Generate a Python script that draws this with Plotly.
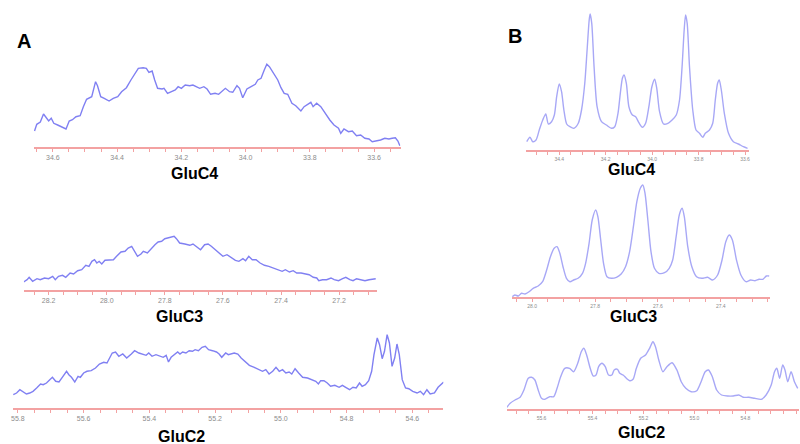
import plotly.graph_objects as go

# ---------------- spectra (ppm, intensity in arbitrary units) ----------------
# Panel A, GluC4
a_c4_ppm = [34.657, 34.650, 34.639, 34.629, 34.622, 34.613, 34.605, 34.597, 34.585, 34.572,
            34.559, 34.549, 34.539, 34.528, 34.515, 34.505, 34.495, 34.479, 34.471, 34.467,
            34.461, 34.451, 34.440, 34.425, 34.412, 34.398, 34.386, 34.371, 34.357, 34.345,
            34.334, 34.319, 34.309, 34.301, 34.291, 34.283, 34.274, 34.260, 34.254, 34.243,
            34.231, 34.219, 34.210, 34.200, 34.188, 34.174, 34.164, 34.151, 34.143, 34.130,
            34.120, 34.109, 34.095, 34.084, 34.063, 34.050, 34.040, 34.027, 34.019, 34.009,
            33.996, 33.983, 33.970, 33.962, 33.952, 33.942, 33.934, 33.926, 33.914, 33.900,
            33.890, 33.880, 33.869, 33.856, 33.844, 33.828, 33.818, 33.804, 33.797, 33.790,
            33.779, 33.766, 33.753, 33.738, 33.725, 33.711, 33.704, 33.694, 33.680, 33.668,
            33.655, 33.642, 33.629, 33.616, 33.606, 33.593, 33.580, 33.567, 33.554, 33.544,
            33.534, 33.526, 33.520]
a_c4_int = [16, 22.7, 25, 33, 30, 26, 28.7, 23.7, 22, 20,
            18, 26, 27.3, 30.3, 31.3, 40.3, 47.7, 50.3, 58.7, 65.3,
            61.3, 50.3, 48.7, 46, 48.7, 50.3, 55.3, 59.3, 67, 73.7,
            78.7, 79.3, 78.7, 74.7, 76, 67, 58.7, 58, 58.7, 53.7,
            55.3, 57, 60.3, 58.7, 62, 61.3, 62, 60.3, 58.7, 60.3,
            58, 52.7, 53.7, 52.7, 58.7, 55.3, 54.7, 61.3, 58.7, 49.3,
            58, 60.3, 62.7, 67, 68.7, 77, 82.7, 80.3, 73.7, 67,
            59.3, 53.7, 52.7, 43.7, 41.3, 36, 40.3, 42.7, 44.7, 40.3,
            43.7, 40.3, 33.7, 27, 22, 18.7, 13.7, 18, 15.3, 16,
            11.3, 12, 8.7, 8, 5.3, 6, 7, 8.7, 8, 8.7,
            9.3, 6, 1.3]

# Panel A, GluC3
a_c3_ppm = [28.286, 28.274, 28.267, 28.255, 28.240, 28.229, 28.214, 28.200, 28.186, 28.177,
            28.166, 28.152, 28.141, 28.126, 28.114, 28.100, 28.086, 28.072, 28.061, 28.051,
            28.042, 28.034, 28.026, 28.017, 28.006, 27.992, 27.977, 27.966, 27.951, 27.937,
            27.926, 27.914, 27.903, 27.894, 27.882, 27.874, 27.860, 27.846, 27.834, 27.823,
            27.811, 27.800, 27.783, 27.768, 27.760, 27.749, 27.731, 27.714, 27.703, 27.691,
            27.677, 27.663, 27.651, 27.640, 27.625, 27.611, 27.600, 27.586, 27.571, 27.557,
            27.545, 27.531, 27.522, 27.511, 27.499, 27.486, 27.472, 27.457, 27.442, 27.428,
            27.411, 27.396, 27.385, 27.371, 27.358, 27.346, 27.331, 27.316, 27.303, 27.289,
            27.277, 27.270, 27.257, 27.243, 27.228, 27.217, 27.202, 27.188, 27.177, 27.163,
            27.152, 27.140, 27.125, 27.111, 27.097, 27.083, 27.074]
a_c3_int = [8, 10.3, 12.7, 8.7, 11.3, 10.3, 12, 11.3, 13.7, 10.3,
            13.7, 14.7, 12.7, 17, 16, 19.3, 20.3, 24.7, 23.7, 28.7,
            30.3, 27, 28.7, 26, 29.7, 30.3, 30.3, 33.7, 38, 38.7,
            42, 43.7, 38, 33.7, 36, 38.7, 37, 42, 45.3, 48,
            48.7, 51.3, 52.7, 53.7, 51.3, 47, 46, 44.7, 46, 43.7,
            40.3, 45.3, 46, 43.7, 40.3, 37, 33.7, 35.3, 32, 29.7,
            28.7, 31.3, 29.3, 33.7, 30.3, 30.3, 27, 24.7, 23.7, 22,
            20.3, 18.7, 20.3, 18, 19.3, 17, 17, 16, 15.3, 12.7,
            12, 9.3, 10.3, 10.3, 12, 10.3, 9.3, 11.3, 12.7, 10.3,
            9.3, 11.3, 10.3, 9.3, 10.3, 11.3, 11.3]

# Panel A, GluC2
a_c2_ppm = [55.814, 55.804, 55.794, 55.784, 55.774, 55.764, 55.754, 55.743, 55.731, 55.723,
            55.713, 55.703, 55.695, 55.685, 55.675, 55.665, 55.652, 55.645, 55.637, 55.627,
            55.617, 55.610, 55.600, 55.590, 55.577, 55.564, 55.552, 55.539, 55.529, 55.521,
            55.513, 55.503, 55.493, 55.481, 55.469, 55.455, 55.445, 55.432, 55.420, 55.410,
            55.402, 55.392, 55.380, 55.368, 55.358, 55.349, 55.342, 55.334, 55.324, 55.314,
            55.307, 55.299, 55.289, 55.279, 55.269, 55.261, 55.251, 55.240, 55.230, 55.220,
            55.208, 55.196, 55.188, 55.180, 55.168, 55.160, 55.142, 55.131, 55.121, 55.108,
            55.096, 55.081, 55.066, 55.056, 55.046, 55.036, 55.025, 55.015, 55.005, 54.995,
            54.985, 54.975, 54.967, 54.957, 54.946, 54.934, 54.919, 54.906, 54.894, 54.886,
            54.879, 54.869, 54.859, 54.849, 54.836, 54.823, 54.813, 54.803, 54.791, 54.781,
            54.771, 54.761, 54.753, 54.743, 54.733, 54.724, 54.717, 54.707, 54.700, 54.692,
            54.685, 54.677, 54.670, 54.662, 54.654, 54.647, 54.640, 54.631, 54.621, 54.611,
            54.599, 54.586, 54.576, 54.566, 54.556, 54.546, 54.533, 54.522, 54.512, 54.505]
a_c2_int = [13.3, 15, 18.3, 16, 14, 15, 16.7, 20, 24, 23.3,
            25, 28.3, 30.7, 26.7, 26, 30.7, 36.7, 33.3, 30.7, 26,
            31.7, 30.7, 35, 36.7, 37.3, 40, 44, 45.7, 45, 50,
            55, 56, 51.7, 54, 50, 54, 57.3, 55, 54, 52.7,
            55, 51.7, 53.3, 51.7, 50.7, 52.7, 46, 50.7, 53.3, 56,
            54, 56, 55, 57.3, 56.7, 58.3, 57.3, 60.7, 61.7, 58.3,
            57.3, 56, 54, 50.7, 55, 53.3, 55, 54, 50, 46,
            42.7, 40.7, 38.3, 36.7, 38.3, 34, 36.7, 40.7, 36.7, 38.3,
            35, 36, 34, 39.3, 35, 30.7, 30, 28.3, 26.7, 24,
            27.3, 27.3, 25, 21.7, 22.7, 20.7, 22.7, 20.7, 18.3, 20.7,
            20, 25, 21.7, 23.3, 27.3, 36.7, 53.3, 70, 63.3, 49.3,
            56.7, 73.3, 65, 41.7, 50, 64, 53.3, 28.3, 20, 19.3,
            16.7, 15, 16.7, 13.3, 18.3, 14, 15, 20.7, 24, 26]

# Panel B, GluC4
b_c4_ppm = [34.540, 34.526, 34.514, 34.500, 34.486, 34.471, 34.458, 34.447, 34.433, 34.421,
            34.411, 34.400, 34.390, 34.380, 34.368, 34.354, 34.337, 34.318, 34.304, 34.290,
            34.280, 34.271, 34.267, 34.260, 34.250, 34.237, 34.218, 34.197, 34.175, 34.161,
            34.147, 34.137, 34.128, 34.121, 34.111, 34.100, 34.085, 34.071, 34.057, 34.042,
            34.028, 34.014, 34.001, 33.989, 33.980, 33.968, 33.951, 33.932, 33.914, 33.896,
            33.882, 33.871, 33.862, 33.856, 33.849, 33.839, 33.825, 33.811, 33.796, 33.782,
            33.771, 33.753, 33.739, 33.728, 33.718, 33.711, 33.702, 33.689, 33.671, 33.650,
            33.628, 33.607, 33.589]
b_c4_int = [8.3, 12.7, 8.3, 10, 20, 30, 36, 26, 28.3, 35,
            53.3, 66, 58.3, 40, 26, 23.3, 21.7, 26.7, 40, 66.7,
            100, 130, 136, 126.7, 83.3, 43.3, 28.3, 25, 21.7, 23.3,
            36.7, 56.7, 71.7, 75, 66.7, 43.3, 35, 33.3, 27.3, 22.7,
            26.7, 43.3, 63.3, 70.7, 61.7, 38.3, 26, 26.7, 30, 35,
            50, 83.3, 120, 135, 126.7, 83.3, 40, 20, 16.7, 12.7,
            16.7, 20, 26.7, 50, 66.7, 70, 60, 36.7, 16.7, 8.3,
            6, 3.3, 1.7]

# Panel B, GluC3
b_c3_ppm = [28.063, 28.055, 28.044, 28.034, 28.023, 28.010, 27.997, 27.981, 27.967, 27.954,
            27.942, 27.930, 27.921, 27.912, 27.902, 27.891, 27.880, 27.868, 27.854, 27.840,
            27.830, 27.819, 27.809, 27.798, 27.791, 27.782, 27.773, 27.762, 27.748, 27.732,
            27.717, 27.703, 27.690, 27.678, 27.667, 27.656, 27.648, 27.641, 27.632, 27.622,
            27.611, 27.597, 27.579, 27.564, 27.553, 27.542, 27.532, 27.523, 27.516, 27.505,
            27.492, 27.477, 27.460, 27.442, 27.426, 27.410, 27.396, 27.384, 27.373, 27.363,
            27.350, 27.336, 27.320, 27.305, 27.291, 27.278, 27.266, 27.255, 27.246]
b_c3_int = [0.3, 2, 1, 3.7, 3, 5.3, 8.7, 11, 15.3, 27,
            40.3, 48.7, 50.3, 43.7, 30.3, 18.7, 15.3, 17, 18.7, 23.7,
            33.7, 53.7, 77, 87, 80.3, 57, 33.7, 20.3, 18.7, 19.7,
            23, 30.3, 45.3, 70.3, 95.3, 108.7, 112, 103.7, 77, 45.3,
            28.7, 23.7, 24.3, 28.7, 37, 60.3, 82, 88.7, 80.3, 50.3,
            30.3, 20.3, 18.7, 19.7, 17, 22, 37, 55.3, 62, 57,
            37, 22, 15.3, 17, 16.3, 17.7, 17.7, 21, 21]

# Panel B, GluC2
b_c2_ppm = [55.736, 55.723, 55.704, 55.684, 55.669, 55.652, 55.639, 55.626, 55.613, 55.600,
            55.587, 55.568, 55.552, 55.539, 55.525, 55.509, 55.490, 55.474, 55.458, 55.444,
            55.434, 55.423, 55.409, 55.397, 55.386, 55.376, 55.363, 55.350, 55.337, 55.324,
            55.315, 55.302, 55.293, 55.280, 55.267, 55.254, 55.241, 55.228, 55.211, 55.192,
            55.176, 55.163, 55.153, 55.140, 55.124, 55.108, 55.088, 55.069, 55.052, 55.034,
            55.013, 54.991, 54.974, 54.958, 54.945, 54.930, 54.913, 54.894, 54.870, 54.848,
            54.826, 54.809, 54.787, 54.764, 54.738, 54.719, 54.699, 54.686, 54.677, 54.666,
            54.654, 54.645, 54.634, 54.621, 54.608, 54.595]
b_c2_int = [1.7, 5.7, 9, 11.7, 19, 30.7, 31.7, 29, 19, 10.7,
            9.7, 12.3, 12.3, 20.7, 32.3, 40.7, 40.7, 37.3, 45.7, 57.3,
            60.7, 54, 40.7, 33, 34, 42.3, 45.7, 42.3, 34, 34,
            39, 39.7, 35.7, 34, 30.7, 28.3, 29.7, 40.7, 50.7, 54,
            60.7, 67.3, 62.3, 49, 37.3, 42.3, 46.3, 39, 27.3, 20.7,
            17.3, 18.3, 27.3, 37.3, 39, 32.3, 19, 14, 13, 13,
            14, 11.7, 11.7, 10.7, 9.7, 14, 24, 37.3, 40.7, 30.7,
            44, 39, 27.3, 37.3, 27.3, 20.7]

panel_letters = ["A", "B"]
carbon_names = ["GluC4", "GluC3", "GluC2"]

# ---------------- page geometry ----------------
W, H = 800, 444
AXIS_RED = "#f3a2a2"
TICK_GRAY = "#8c8c8c"
LINE_A = "rgb(128,128,242)"
LINE_B = "rgb(168,168,246)"

# (ppm, intensity, left px, right px, axis-line px, top px, ppm range, tick size, colour, shape, label, label x, label y)
panels = [
    (a_c4_ppm, a_c4_int, 32, 400, 147, 60, [34.659, 33.518], 7, LINE_A, "linear", carbon_names[0], 193, 173),
    (a_c3_ppm, a_c3_int, 22, 376, 290, 230, [28.285, 27.071], 7, LINE_A, "linear", carbon_names[1], 178, 316),
    (a_c2_ppm, a_c2_int, 11, 443, 408, 330, [55.815, 54.506], 7, LINE_A, "linear", carbon_names[2], 180, 436),
    (b_c4_ppm, b_c4_int, 526, 750, 150, 10, [34.543, 33.582], 5, LINE_B, "spline", carbon_names[0], 632, 169),
    (b_c3_ppm, b_c3_int, 512, 771, 297, 180, [28.064, 27.243], 5, LINE_B, "spline", carbon_names[1], 634, 316),
    (b_c2_ppm, b_c2_int, 507, 800, 409, 335, [55.735, 54.590], 5, LINE_B, "spline", carbon_names[2], 642, 432),
]

fig = go.Figure()
layout = dict(
    width=W, height=H,
    margin=dict(l=0, r=0, t=0, b=0),
    paper_bgcolor="white", plot_bgcolor="white",
    showlegend=False,
    font=dict(family="Arial, Liberation Sans, sans-serif"),
)
annotations = []

for i, (ppm, inten, x0, x1, ay, top, xr, tsize, color, shape, label, lx, ly) in enumerate(panels, start=1):
    sfx = "" if i == 1 else str(i)
    line = dict(color=color, width=1.4, shape=shape)
    if shape == "spline":
        line["smoothing"] = 0.7
    fig.add_trace(go.Scatter(x=ppm, y=inten, mode="lines", line=line,
                             xaxis="x" + sfx, yaxis="y" + sfx, hoverinfo="skip"))
    layout["xaxis" + sfx] = dict(
        domain=[x0 / W, x1 / W], range=xr, anchor="y" + sfx,
        showline=True, linecolor=AXIS_RED, linewidth=2,
        ticks="outside", ticklen=3, tickwidth=1, tickcolor=AXIS_RED,
        tick0=0, dtick=0.2, tickformat=".1f",
        minor=dict(dtick=0.05, ticks="outside", ticklen=3, tickwidth=1, tickcolor=AXIS_RED),
        tickfont=dict(size=tsize, color=TICK_GRAY, family="Arial, Liberation Sans, sans-serif"),
        showgrid=False, zeroline=False, fixedrange=True,
    )
    layout["yaxis" + sfx] = dict(
        domain=[1 - ay / H, 1 - top / H], range=[0, ay - top], anchor="x" + sfx,
        visible=False, showgrid=False, zeroline=False, fixedrange=True,
    )
    annotations.append(dict(
        text=label, x=lx / W, y=1 - ly / H, xref="paper", yref="paper",
        xanchor="center", yanchor="middle", showarrow=False,
        font=dict(size=16, color="black", family="Arial, Liberation Sans, sans-serif", weight="bold"),
    ))

for letter, lx, ly in zip(panel_letters, [22.5, 514.5], [41.5, 36]):
    annotations.append(dict(
        text=letter, x=lx / W, y=1 - ly / H, xref="paper", yref="paper",
        xanchor="center", yanchor="middle", showarrow=False,
        font=dict(size=20, color="black", family="Arial, Liberation Sans, sans-serif", weight="bold"),
    ))

layout["annotations"] = annotations
fig.update_layout(**layout)
fig.write_html("out.html")
